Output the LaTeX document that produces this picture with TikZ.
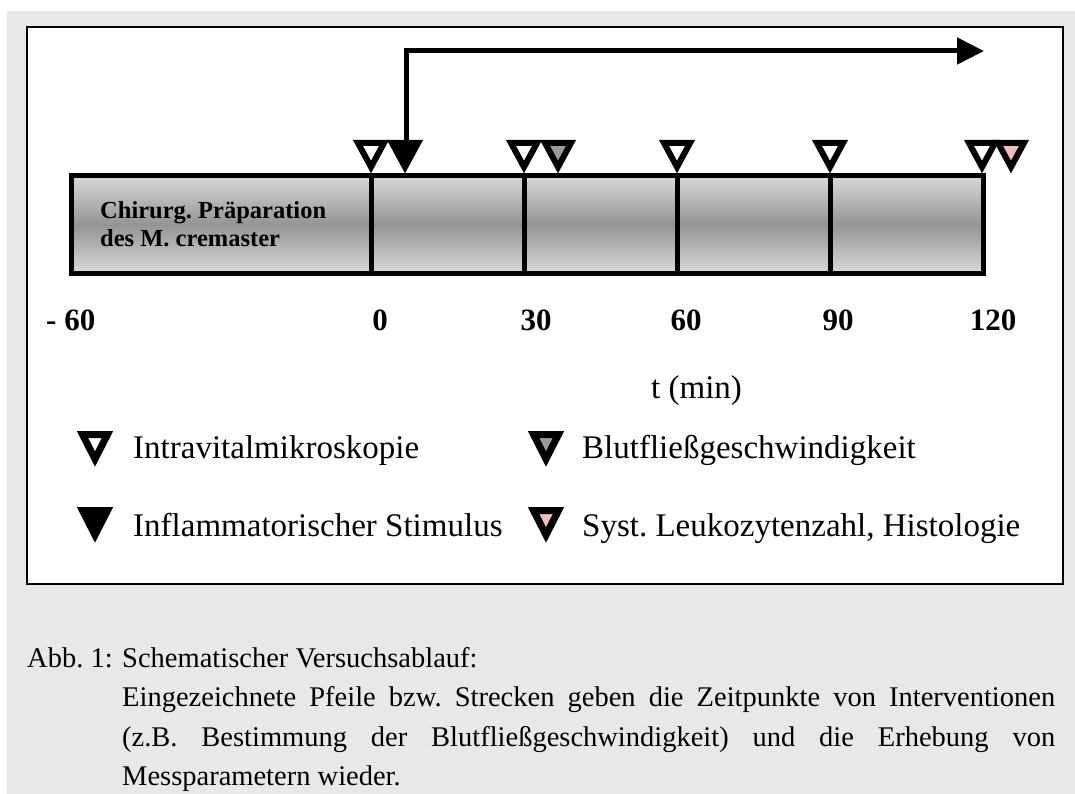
\documentclass[tikz,border=0pt]{standalone}
\usepackage{fontspec}
\setmainfont{Liberation Serif}
\usetikzlibrary{arrows.meta}
\frenchspacing
\definecolor{bggray}{RGB}{232,232,232}
\definecolor{barlight}{RGB}{218,218,218}
\definecolor{bardark}{RGB}{148,148,148}
\definecolor{midgray}{RGB}{155,155,155}
\definecolor{pinkfill}{RGB}{242,188,188}
\newcommand\tmark[2]{\draw[line width=6pt, line join=miter, fill=#2] ({#1-13},143) -- ({#1+13},143) -- (#1,167) -- cycle;}
\newcommand\legmark[3]{\draw[line width=7pt, line join=miter, fill=#3] ({#1-12.5},{#2+3.5}) -- ({#1+12.5},{#2+3.5}) -- (#1,{#2+28}) -- cycle;}
\tikzset{
  ticklabel/.style={font=\bfseries\fontsize{31}{33}\selectfont, inner sep=0, anchor=base},
  legendtext/.style={font=\fontsize{33}{36}\selectfont, inner sep=0, anchor=base west},
  captext/.style={font=\fontsize{28.5}{39.5}\selectfont, inner sep=0},
}
\begin{document}
\begin{tikzpicture}[x=1pt,y=-1pt]
\useasboundingbox (0,0) rectangle (1075,794);
\fill[bggray] (7,11) rectangle (1075,794);
\draw[line width=2.5pt, fill=white] (27,27) rectangle (1063,584);
% bar
\shade[top color=barlight, bottom color=barlight, middle color=bardark] (71.5,175.5) rectangle (983,273.5);
\draw[line width=5pt, line join=miter] (71.5,175.5) rectangle (983,273.5);
\foreach \x in {371,524,677,830} \draw[line width=5pt] (\x,175.5) -- (\x,273.5);
\node[font=\bfseries\fontsize{24.5}{27.5}\selectfont, align=left, inner sep=0, anchor=west] (prep) at (100,224) {Chirurg. Präparation\\des M. cremaster};
% arrow
\coordinate (stim) at (406,141);
\coordinate (arrowtip) at (984,51);
\draw[line width=5pt, line join=miter, -{Triangle[length=27pt,width=26pt]}] (stim) |- (arrowtip);
% markers
\tmark{371}{white}
\tmark{524}{white}
\tmark{677}{white}
\tmark{830}{white}
\tmark{982}{white}
\tmark{405}{black}
\tmark{558}{midgray}
\tmark{1011}{pinkfill}
% tick labels
\node[ticklabel, anchor=base west] (tm60) at (46,330) {- 60};
\node[ticklabel] (t0) at (380,330) {0};
\node[ticklabel] (t30) at (536,330) {30};
\node[ticklabel] (t60) at (686,330) {60};
\node[ticklabel] (t90) at (838,330) {90};
\node[ticklabel] (t120) at (993,330) {120};
\node[legendtext] (tmin) at (651,398) {t (min)};
% legend
\legmark{95}{431}{white}
\node[legendtext] (l1) at (133,458) {Intravitalmikroskopie};
\legmark{95}{507}{black}
\node[legendtext] (l2) at (133,536) {Inflammatorischer Stimulus};
\legmark{546}{431}{midgray}
\node[legendtext] (l3) at (582,458) {Blutfließgeschwindigkeit};
\legmark{546}{507}{pinkfill}
\node[legendtext] (l4) at (582,536) {Syst. Leukozytenzahl, Histologie};
% caption
\node[captext, anchor=base west] (abb) at (27,667) {Abb. 1:};
\node[captext, anchor=base west] (title) at (122,667) {Schematischer Versuchsablauf:};
\node[captext, anchor=north west, text width=933pt, align=justify] (body) at (122,686.5) {\tolerance=10000\hbadness=10000\hyphenpenalty=10000 Eingezeichnete Pfeile bzw. Strecken geben die Zeitpunkte von Interventionen\linebreak (z.B. Bestimmung der Blutfließgeschwindigkeit) und die Erhebung von\linebreak Messparametern wieder.};
\end{tikzpicture}
\end{document}
